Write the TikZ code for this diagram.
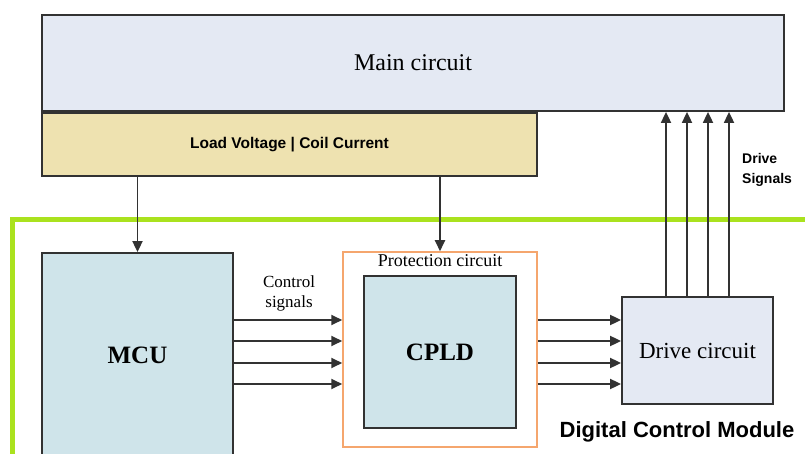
\documentclass[tikz,border=0pt]{standalone}
\usepackage{fontspec}
\setmainfont{Liberation Serif}
\setsansfont{Liberation Sans}
\usepackage{xcolor}
\usetikzlibrary{arrows.meta,positioning}

\definecolor{mainfill}{RGB}{228,233,243}
\definecolor{loadfill}{RGB}{238,226,176}
\definecolor{chipfill}{RGB}{207,228,234}
\definecolor{protline}{RGB}{245,166,110}
\definecolor{modline}{RGB}{170,226,30}
\definecolor{edge}{RGB}{50,50,50}

\begin{document}
\begin{tikzpicture}[x=1pt, y=1pt,
  blk/.style={draw=edge, line width=1.8pt, inner sep=0pt, align=center},
  arr/.style={draw=edge, line width=1.8pt, -{Triangle[length=11pt,width=10pt]}},
  txt/.style={inner sep=0pt, align=center}]
\useasboundingbox (0,0) rectangle (805,-454);
% module border
\draw[modline, line width=5pt] (12,-460) -- (12,-220) -- (810,-220);
\node[blk, fill=mainfill, minimum width=742pt, minimum height=96pt,
      font=\fontsize{24}{28}\selectfont] (main) at (413,-63) {Main circuit};
\node[blk, fill=loadfill, minimum width=495pt, minimum height=63pt,
      below right=0pt and 0pt of main.south west,
      font=\sffamily\bfseries\fontsize{15.5}{18}\selectfont] (load) {Load Voltage | Coil Current};
\node[blk, fill=chipfill, minimum width=191pt, minimum height=205pt,
      font=\bfseries\fontsize{25}{28}\selectfont] (mcu) at (137.5,-355.5) {MCU};
\node[draw=protline, line width=1.5pt, minimum width=194pt, minimum height=195pt,
      inner sep=0pt] (prot) at (440,-349.5) {};
\node[txt, anchor=north, font=\fontsize{18}{20}\selectfont] (ptitle)
      at ([yshift=-3pt]prot.north) {Protection circuit};
\node[blk, fill=chipfill, minimum width=152pt, minimum height=152pt,
      font=\bfseries\fontsize{25}{28}\selectfont] (cpld) at (440,-352) {CPLD};
\node[blk, fill=mainfill, minimum width=151pt, minimum height=107pt,
      font=\fontsize{23}{26}\selectfont] (drive) at (697.5,-350.5) {Drive circuit};
\node[txt, font=\fontsize{17}{20}\selectfont] (ctl) at (289,-293) {Control\\signals};
\node[txt, anchor=west, align=left, font=\sffamily\bfseries\fontsize{14}{20}\selectfont]
      (dsig) at (742,-170) {Drive\\Signals};
\node[txt, font=\sffamily\bfseries\fontsize{22}{24}\selectfont] (dcm)
      at (677,-432) {Digital Control Module};
% sensing
\draw[arr] (load.south -| mcu.north) -- (mcu.north);
\draw[arr] (load.south -| prot.north) -- (prot.north);
% control and gate signals
\foreach \dy [count=\i] in {32,11,-11,-32} {
  \coordinate (s\i) at ([yshift=\dy pt]cpld.center);
  \draw[arr] (mcu.east |- s\i) -- (prot.west |- s\i);
  \draw[arr] (prot.east |- s\i) -- (drive.west |- s\i);
}
% drive signals
\foreach \dx [count=\i] in {-31.5,-10.5,10.5,31.5} {
  \coordinate (d\i) at ([xshift=\dx pt]drive.north);
  \draw[arr] (d\i) -- (d\i |- main.south);
}
\end{tikzpicture}
\end{document}
